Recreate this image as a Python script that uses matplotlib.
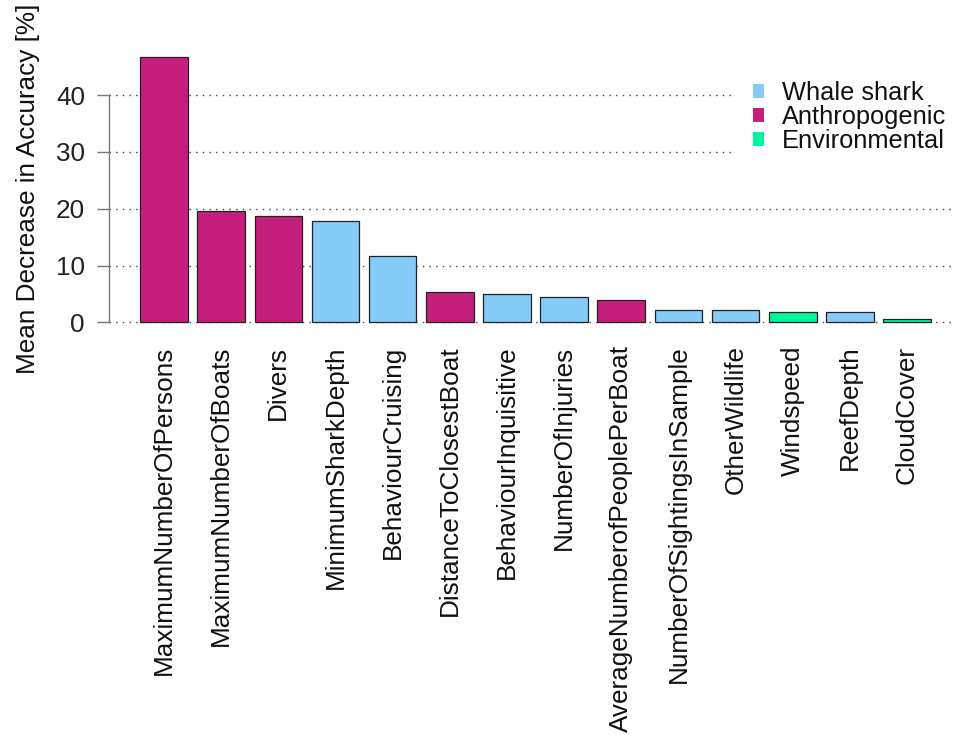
import matplotlib
matplotlib.use("Agg")
import matplotlib.pyplot as plt
from matplotlib.patches import Patch
import numpy as np

plt.rcParams['font.family'] = ['Liberation Sans', 'DejaVu Sans']

variables = [
    "MaximumNumberOfPersons", "MaximumNumberOfBoats", "Divers",
    "MinimumSharkDepth", "BehaviourCruising", "DistanceToClosestBoat",
    "BehaviourInquisitive", "NumberOfInjuries", "AverageNumberofPeoplePerBoat",
    "NumberOfSightingsInSample", "OtherWildlife", "Windspeed", "ReefDepth",
    "CloudCover",
]
mean_decrease = [46.8, 19.6, 18.8, 17.9, 11.7, 5.3, 4.9, 4.45, 3.85,
                 2.15, 2.1, 1.9, 1.75, 0.6]
groups = ["Anthropogenic", "Anthropogenic", "Anthropogenic", "Whale shark",
          "Whale shark", "Anthropogenic", "Whale shark", "Whale shark",
          "Anthropogenic", "Whale shark", "Whale shark", "Environmental",
          "Whale shark", "Environmental"]

group_names = ["Whale shark", "Anthropogenic", "Environmental"]
group_colors = {"Whale shark": "#85CBF8",
                "Anthropogenic": "#C41F7D",
                "Environmental": "#00F79A"}
y_ticks = [0, 10, 20, 30, 40]

W, H = 954, 736
FS = 18.8
fig = plt.figure(figsize=(W / 100, H / 100), dpi=100)

# plot region in pixel terms (left, right, top, bottom)
px_l, px_r, px_t, px_b = 108.6, 962.5, 44.7, 333.0
ax = fig.add_axes([px_l / W, 1 - px_b / H, (px_r - px_l) / W, (px_b - px_t) / H])

n = len(variables)
centers = 0.7 + 1.2 * np.arange(n)
colors = [group_colors[g] for g in groups]

ax.set_xlim(-0.464, 17.464)
ax.set_ylim(-1.88, 48.88)

for yv in y_ticks:
    ax.axhline(yv, color="#444444", lw=1.0, linestyle=(0, (1, 3.8)), zorder=0)

ax.bar(centers, mean_decrease, width=1.0, color=colors,
       edgecolor="#222222", linewidth=0.9, zorder=2)

for side in ["top", "right", "bottom"]:
    ax.spines[side].set_visible(False)
ax.spines["left"].set_bounds(0, 40)
ax.spines["left"].set_color("#777777")
ax.spines["left"].set_linewidth(1.0)

ax.set_yticks(y_ticks)
ax.set_yticklabels([str(v) for v in y_ticks])
ax.tick_params(axis="y", length=8.5, width=1.0, color="#777777",
               labelsize=FS, pad=8.5, labelcolor="#222222")

ax.set_xticks(centers)
ax.set_xticklabels(variables, rotation=90, ha="center", va="top")
ax.tick_params(axis="x", length=0, labelsize=FS, pad=9, labelcolor="#111111")

ax.set_ylabel("Mean Decrease in Accuracy [%]", fontsize=FS, color="#111111")
ax.yaxis.set_label_coords(-(px_l - 28) / (px_r - px_l), 0.5)
ax.yaxis.label.set_va("center")

handles = [Patch(facecolor=group_colors[g], edgecolor="none") for g in group_names]
leg = fig.legend(handles, group_names, loc="upper left",
                 bbox_to_anchor=(735 / W, 1 - 63 / H),
                 fontsize=18.3, frameon=True, facecolor="white",
                 edgecolor="none", framealpha=1.0, fancybox=False,
                 handlelength=0.45, handleheight=0.45, handletextpad=0.7,
                 labelspacing=0.0, borderpad=0.7, borderaxespad=0)
for t in leg.get_texts():
    t.set_color("#111111")

fig.savefig("out.png", dpi=100, facecolor="white")
